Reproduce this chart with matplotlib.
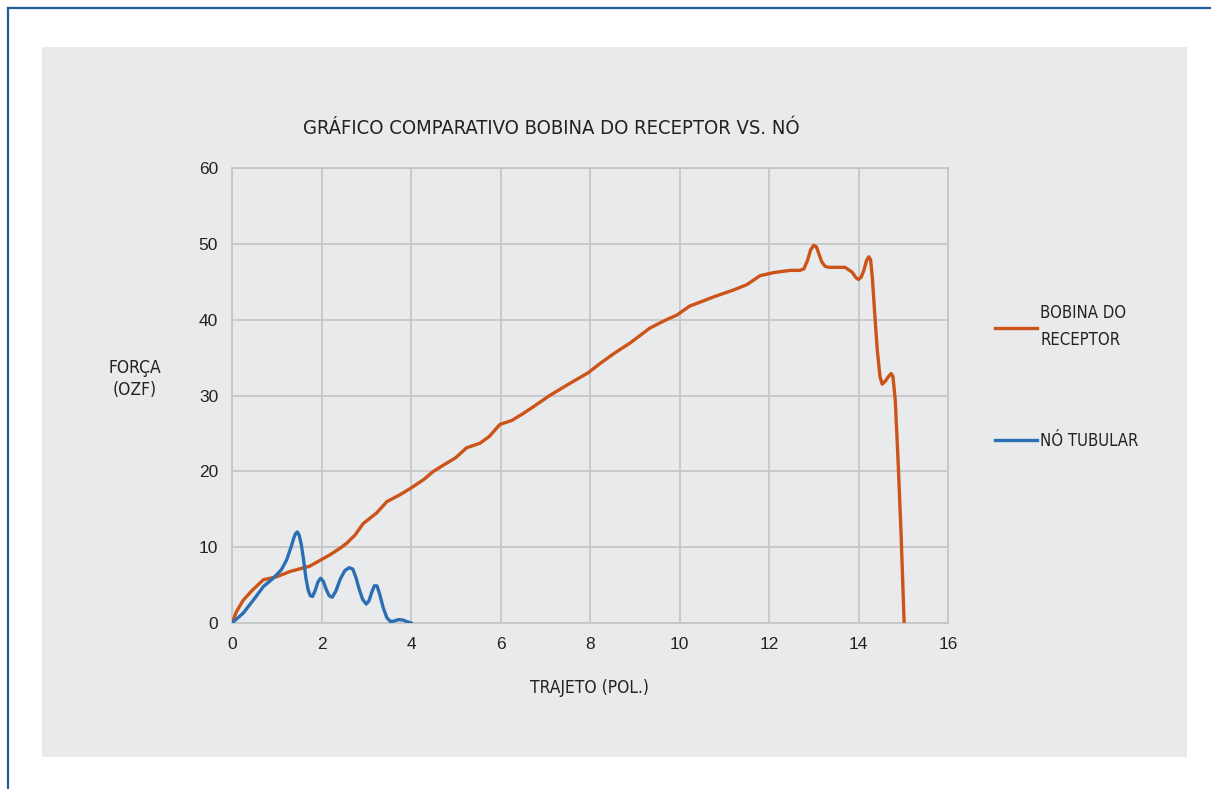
import matplotlib.pyplot as plt
from matplotlib.lines import Line2D
from matplotlib.patches import Rectangle

# data
bobina_x = [0, 0.1, 0.25, 0.45, 0.7, 0.85, 1.0, 1.3, 1.74, 1.95, 2.19, 2.4, 2.56, 2.75, 2.93,
            3.1, 3.23, 3.46, 3.75, 4.0, 4.28, 4.5, 4.72, 5.0, 5.24, 5.54, 5.75, 5.99, 6.25,
            6.5, 6.73, 7.1, 7.55, 7.96, 8.22, 8.55, 8.89, 9.34, 9.71, 9.94, 10.23, 10.5,
            10.76, 11.2, 11.5, 11.8, 12.1, 12.47, 12.69, 12.78, 12.86, 12.93, 13.0, 13.06,
            13.12, 13.18, 13.26, 13.36, 13.55, 13.7, 13.85, 13.95, 14.0, 14.06, 14.12, 14.18,
            14.23, 14.27, 14.31, 14.36, 14.42, 14.48, 14.53, 14.6, 14.67, 14.73, 14.77,
            14.82, 14.88, 14.95, 15.02]
bobina_y = [0, 1.5, 3.0, 4.3, 5.7, 5.9, 6.1, 6.8, 7.5, 8.2, 9.0, 9.8, 10.5, 11.6, 13.1,
            13.9, 14.5, 16.0, 16.9, 17.8, 18.9, 20.0, 20.8, 21.8, 23.1, 23.7, 24.6, 26.2, 26.7,
            27.6, 28.5, 30.0, 31.6, 33.0, 34.2, 35.6, 36.9, 38.9, 40.0, 40.6, 41.8, 42.4,
            43.0, 43.9, 44.6, 45.8, 46.2, 46.5, 46.5, 46.7, 47.8, 49.2, 49.8, 49.6,
            48.6, 47.6, 47.0, 46.9, 46.9, 46.9, 46.3, 45.5, 45.3, 45.6, 46.5, 47.8,
            48.3, 47.9, 45.5, 41.0, 36.0, 32.5, 31.5, 31.9, 32.5, 32.9, 32.5,
            29.5, 22.0, 12.0, 0]

no_x = [0, 0.25, 0.5, 0.7, 0.92, 1.1, 1.22, 1.33, 1.38, 1.42, 1.46, 1.50, 1.55, 1.60, 1.65,
        1.70, 1.75, 1.80, 1.86, 1.92, 1.98, 2.04, 2.10, 2.17, 2.24, 2.32, 2.42, 2.52, 2.62,
        2.70, 2.77, 2.84, 2.92, 3.0, 3.06, 3.12, 3.18, 3.24, 3.30, 3.38, 3.46, 3.54, 3.62,
        3.72, 3.82, 3.92, 4.0]
no_y = [0, 1.3, 3.2, 4.8, 5.9, 7.0, 8.3, 10.2, 11.2, 11.8, 12.0, 11.6, 10.3, 8.3, 6.0,
        4.4, 3.6, 3.5, 4.3, 5.4, 5.9, 5.5, 4.5, 3.6, 3.4, 4.2, 5.8, 6.9, 7.3,
        7.1, 6.0, 4.5, 3.1, 2.5, 2.9, 4.0, 4.9, 4.9, 3.8, 2.0, 0.7, 0.2, 0.25,
        0.45, 0.4, 0.15, 0.0]

xticks = [0, 2, 4, 6, 8, 10, 12, 14, 16]
yticks = [0, 10, 20, 30, 40, 50, 60]

W, H = 1211, 789
narrow = dict(family='DejaVu Sans', stretch='condensed')
panel = '#e9eaec'
gridc = '#c3c4c6'

fig = plt.figure(figsize=(W / 100, H / 100), dpi=100)
fig.patch.set_facecolor('white')

# gray panel and blue frame
fig.patches.append(Rectangle((42 / W, 1 - 757 / H), (1187 - 42) / W, (757 - 47) / H,
                             transform=fig.transFigure, facecolor=panel, edgecolor='none',
                             zorder=-10))
fig.lines.append(Line2D([8 / W, 8 / W], [0, 1 - 8 / H], transform=fig.transFigure,
                        color='#1f5c99', lw=1.6))
fig.lines.append(Line2D([8 / W, 1], [1 - 8 / H, 1 - 8 / H], transform=fig.transFigure,
                        color='#1f5c99', lw=1.6))

ax = fig.add_axes([232 / W, 1 - 623 / H, (948 - 232) / W, (623 - 168) / H])
ax.set_facecolor(panel)
ax.plot(bobina_x, bobina_y, color='#cc5418', lw=2.4, label='BOBINA DO\nRECEPTOR',
        zorder=3, solid_joinstyle='round')
ax.plot(no_x, no_y, color='#2a6fb3', lw=2.4, label='NÓ TUBULAR', zorder=3,
        solid_joinstyle='round')

ax.set_xlim(0, 16)
ax.set_ylim(0, 60)
ax.set_xticks(xticks)
ax.set_yticks(yticks)
ax.grid(True, color=gridc, lw=1.2)
ax.set_axisbelow(True)
for s in ax.spines.values():
    s.set_color(gridc)
    s.set_linewidth(1.2)
ax.tick_params(length=0, labelsize=12.5, labelcolor='#222222', pad=10)
for lab in ax.get_xticklabels() + ax.get_yticklabels():
    lab.set_family(['Liberation Sans', 'DejaVu Sans'])

fig.text(551 / W, 1 - 128 / H, 'GRÁFICO COMPARATIVO BOBINA DO RECEPTOR VS. NÓ',
         fontsize=14.5, color='#222222', ha='center', va='center', **narrow)
fig.text(590 / W, 1 - 688 / H, 'TRAJETO (POL.)', fontsize=12.5,
         color='#222222', ha='center', va='center', **narrow)
fig.text(135 / W, 1 - 379 / H, 'FORÇA\n(OZF)', fontsize=12.5,
         color='#222222', ha='center', va='center', linespacing=1.25, **narrow)

leg = ax.legend(loc='upper left', bbox_to_anchor=(987 / W, 1 - 296 / H),
                bbox_transform=fig.transFigure, frameon=False, borderpad=0,
                handlelength=2.5, handletextpad=0.2, labelspacing=5.0,
                prop=dict(size=12, **narrow))
for t in leg.get_texts():
    t.set_color('#222222')
    t.set_linespacing(1.6)

fig.savefig('out.png', dpi=100)
